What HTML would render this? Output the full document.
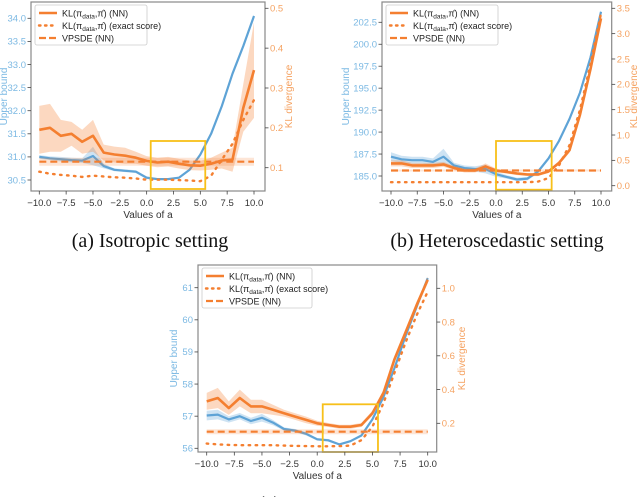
<!DOCTYPE html>
<html><head><meta charset="utf-8">
<style>
html,body{margin:0;padding:0;background:#fff;width:640px;height:497px;overflow:hidden}
svg{display:block;font-family:"Liberation Sans",sans-serif}
.cap{font-family:"Liberation Serif",serif;font-size:20px;fill:#111}
</style></head><body>
<svg id="fig" width="640" height="497" viewBox="0 0 640 497"></svg>
<script>
const xs = [-10,-9,-8,-7,-6,-5,-4,-3,-2,-1,0,1,2,3,4,5,6,7,8,9,10];
const xTicks = [-10,-7.5,-5,-2.5,0,2.5,5,7.5,10];
const xTickLabels = ["\u221210.0","\u22127.5","\u22125.0","\u22122.5","0.0","2.5","5.0","7.5","10.0"];

// Panel (a)
const aBlue = [31.0,30.97,30.95,30.93,30.92,31.02,30.8,30.72,30.7,30.68,30.55,30.52,30.52,30.55,30.72,31.05,31.5,32.1,32.8,33.4,34.05];
const aBlueErr = [0.04,0.04,0.05,0.05,0.05,0.2,0.05,0.03,0.03,0.03,0.03,0.02,0.02,0.02,0.02,0.03,0.03,0.03,0.03,0.03,0.03];
const aNN = [0.195,0.2,0.18,0.185,0.165,0.18,0.138,0.133,0.13,0.125,0.117,0.113,0.115,0.11,0.106,0.105,0.11,0.118,0.12,0.25,0.345];
const aNNErr = [0.06,0.06,0.04,0.03,0.03,0.04,0.02,0.02,0.02,0.015,0.012,0.012,0.012,0.012,0.012,0.012,0.015,0.02,0.03,0.06,0.12];
const aExact = [0.09,0.085,0.082,0.08,0.077,0.08,0.078,0.076,0.075,0.073,0.07,0.07,0.07,0.069,0.068,0.066,0.08,0.12,0.16,0.22,0.27];
const aVp = 0.115;
const aLeftTicks = [30.5,31.0,31.5,32.0,32.5,33.0,33.5,34.0];
const aRightTicks = [0.1,0.2,0.3,0.4,0.5];

// Panel (b)
const bBlue = [187.2,186.9,186.8,186.8,186.6,187.2,186.2,185.9,185.8,185.8,185.2,184.9,184.6,184.7,185.5,187.0,189.0,191.5,194.5,198.5,203.7];
const bBlueErr = [0.5,0.4,0.4,0.4,0.4,0.9,0.3,0.3,0.3,0.5,0.3,0.2,0.2,0.2,0.2,0.2,0.2,0.2,0.2,0.2,0.2];
const bNN = [0.44,0.44,0.4,0.4,0.4,0.42,0.35,0.3,0.3,0.38,0.3,0.27,0.24,0.22,0.22,0.28,0.45,0.7,1.4,2.3,3.3];
const bNNErr = [0.06,0.06,0.05,0.05,0.05,0.05,0.04,0.04,0.04,0.06,0.04,0.03,0.03,0.03,0.03,0.03,0.04,0.05,0.06,0.06,0.08];
const bExact = [0.07,0.07,0.07,0.07,0.07,0.07,0.07,0.07,0.07,0.07,0.07,0.07,0.07,0.07,0.08,0.15,0.4,0.8,1.5,2.4,3.4];
const bVp = 0.3;
const bLeftTicks = [185.0,187.5,190.0,192.5,195.0,197.5,200.0,202.5];
const bLeftLabels = ["185.0","187.5","190.0","192.5","195.0","197.5","200.0","202.5"];
const bRightTicks = [0,0.5,1.0,1.5,2.0,2.5,3.0,3.5];

// Panel (c)
const cBlue = [57.02,57.05,56.9,57.0,56.85,56.95,56.8,56.6,56.55,56.45,56.28,56.25,56.12,56.22,56.4,56.9,57.6,58.5,59.5,60.4,61.3];
const cBlueErr = [0.15,0.15,0.1,0.1,0.1,0.12,0.08,0.05,0.05,0.05,0.04,0.04,0.03,0.03,0.03,0.03,0.03,0.03,0.03,0.03,0.03];
const cNN = [0.33,0.35,0.29,0.35,0.3,0.3,0.28,0.26,0.24,0.22,0.2,0.19,0.18,0.18,0.19,0.26,0.38,0.58,0.74,0.9,1.05];
const cNNErr = [0.05,0.06,0.04,0.05,0.04,0.04,0.03,0.02,0.02,0.02,0.015,0.012,0.012,0.012,0.012,0.015,0.02,0.02,0.02,0.02,0.02];
const cExact = [0.08,0.075,0.072,0.07,0.07,0.07,0.07,0.068,0.066,0.065,0.064,0.064,0.065,0.068,0.1,0.18,0.32,0.5,0.68,0.84,0.98];
const cVp = 0.15;
const cLeftTicks = [56,57,58,59,60,61];
const cRightTicks = [0.2,0.4,0.6,0.8,1.0];

const NS = "http://www.w3.org/2000/svg";
const svg = document.getElementById('fig');
const BLUE = "#5ea3d6", ORANGE = "#f47f30", LBLUE = "#7cb9e3", LORANGE = "#f5a261";
function mk(tag, attrs, parent){const e=document.createElementNS(NS,tag);for(const k in attrs)e.setAttribute(k,attrs[k]);(parent||svg).appendChild(e);return e;}
function lin(d0,d1,p0,p1){return v=>p0+(v-d0)*(p1-p0)/(d1-d0);}

function panel(P){
  const g = mk('g',{});
  
  
  const X = lin(-10,10,P.xa,P.xb);
  const YL = lin(P.l0,P.l1,P.ly0,P.ly1);
  const YR = lin(P.r0,P.r1,P.ry0,P.ry1);
  const band = (vals,err,Y,col,op,name)=>{
    let d = xs.map((x,i)=>(i?'L':'M')+X(x).toFixed(1)+','+Y(vals[i]+err[i]).toFixed(1)).join('');
    for(let i=xs.length-1;i>=0;i--) d+='L'+X(xs[i]).toFixed(1)+','+Y(vals[i]-err[i]).toFixed(1);
    const e = mk('path',{d:d+'Z',fill:col,'fill-opacity':op,stroke:'none'},g);
    
    
  };
  const line = (vals,Y,col,extra,name)=>{
    const d = xs.map((x,i)=>(i?'L':'M')+X(x).toFixed(1)+','+Y(vals[i]).toFixed(1)).join('');
    const e = mk('path',Object.assign({d,fill:'none',stroke:col,'stroke-width':2.2,'stroke-linejoin':'round'},extra),g);
    
    
  };
  band(P.blue,P.blueErr,YL,BLUE,0.3,'upper-bound-band');
  line(P.blue,YL,BLUE,{},'upper-bound-line');
  band(P.nn,P.nnErr,YR,ORANGE,0.3,'kl-nn-band');
  const vpErr = xs.map(()=>P.vpErr);
  const vpv = xs.map(()=>P.vp);
  band(vpv,vpErr,YR,ORANGE,0.2,'vpsde-band');
  line(vpv,YR,ORANGE,{'stroke-dasharray':'7,4'},'vpsde-line');
  line(P.exact,YR,ORANGE,{'stroke-dasharray':'1.5,5.5','stroke-linecap':'round','stroke-width':2.4},'kl-exact-line');
  line(P.nn,YR,ORANGE,{'stroke-width':2.6},'kl-nn-line');
  const hb = mk('rect',{x:X(P.box[0]),y:P.by0,width:X(P.box[1])-X(P.box[0]),height:P.by1-P.by0,fill:'none',stroke:'#f7c01a','stroke-width':1.8},g);
  
  
  const fr = mk('rect',{x:P.fx0,y:P.fy0,width:P.fx1-P.fx0,height:P.fy1-P.fy0,fill:'none',stroke:'#888','stroke-width':1.2},g);
  
  
  xTicks.forEach((t,i)=>{
    mk('line',{x1:X(t),x2:X(t),y1:P.fy1,y2:P.fy1+3.5,stroke:'#444','stroke-width':0.8},g);
    const tx = mk('text',{x:X(t),y:P.fy1+15,'font-size':9.5,'text-anchor':'middle',fill:'#333'},g);
    tx.textContent = xTickLabels[i];
    
    
  });
  const xl = mk('text',{x:(P.fx0+P.fx1)/2,y:P.fy1+27,'font-size':10,'text-anchor':'middle',fill:'#333'},g);
  xl.textContent='Values of a';
  
  
  P.lt.forEach((t,i)=>{
    mk('line',{x1:P.fx0-3.5,x2:P.fx0,y1:YL(t),y2:YL(t),stroke:'#444','stroke-width':0.8},g);
    const tx = mk('text',{x:P.fx0-5,y:YL(t)+3.3,'font-size':9.5,'text-anchor':'end',fill:LBLUE},g);
    tx.textContent = P.ll ? P.ll[i] : (P.ldec!=null ? t.toFixed(P.ldec) : String(t));
    
    
  });
  P.rt.forEach(t=>{
    mk('line',{x1:P.fx1,x2:P.fx1+3.5,y1:YR(t),y2:YR(t),stroke:'#444','stroke-width':0.8},g);
    const tx = mk('text',{x:P.fx1+5,y:YR(t)+3.3,'font-size':9.5,'text-anchor':'start',fill:LORANGE},g);
    tx.textContent = t.toFixed(1);
    
    
  });
  const my=(P.fy0+P.fy1)/2;
  const yl = mk('text',{x:P.ylx,y:my,'font-size':10,'text-anchor':'middle',fill:LBLUE,transform:`rotate(-90 ${P.ylx} ${my})`},g);
  yl.textContent='Upper bound';
  
  
  const yr = mk('text',{x:P.yrx,y:my,'font-size':10,'text-anchor':'middle',fill:LORANGE,transform:`rotate(-90 ${P.yrx} ${my})`},g);
  yr.textContent='KL divergence';
  
  
  const lx=P.fx0+4, ly=P.fy0+3;
  const lg = mk('g',{},g);
  
  
  mk('rect',{x:lx,y:ly,width:P.legW,height:40,fill:'#fff','fill-opacity':0.85,stroke:'#ccc','stroke-width':0.8,rx:2},lg);
  const ents=[[{'stroke-width':2.6},'KL(π<tspan font-size="6.5" dy="2">data</tspan><tspan dy="-2">,π̂) (NN)</tspan>'],
    [{'stroke-dasharray':'1.5,4.5','stroke-linecap':'round','stroke-width':2.4},'KL(π<tspan font-size="6.5" dy="2">data</tspan><tspan dy="-2">,π̂) (exact score)</tspan>'],
    [{'stroke-dasharray':'7,3'},'VPSDE (NN)']];
  ents.forEach((e,i)=>{
    const yy=ly+8+i*12.5;
    mk('line',Object.assign({x1:lx+4,x2:lx+22,y1:yy,y2:yy,stroke:ORANGE,'stroke-width':2.2},e[0]),lg);
    const t=mk('text',{x:lx+27,y:yy+3.3,'font-size':9,fill:'#222'},lg);
    t.innerHTML=e[1];
    
    
  });
}

panel({name:'panel-a-isotropic',xa:39.3,xb:254,fx0:31,fx1:265,fy0:2,fy1:191,
  l0:30.5,l1:34.0,ly0:180,ly1:18.3,r0:0.1,r1:0.5,ry0:167.7,ry1:8.3,
  blue:aBlue,blueErr:aBlueErr,nn:aNN,nnErr:aNNErr,exact:aExact,vp:aVp,vpErr:0.01,
  lt:aLeftTicks,ldec:1,rt:aRightTicks,box:[0.38,5.46],by0:141,by1:189,ylx:7,yrx:292,legW:112});
panel({name:'panel-b-heteroscedastic',xa:391,xb:601,fx0:382,fx1:611.7,fy0:2,fy1:191,
  l0:185,l1:202.5,ly0:176,ly1:22.3,r0:0,r1:3.5,ry0:185.7,ry1:8.3,
  blue:bBlue,blueErr:bBlueErr,nn:bNN,nnErr:bNNErr,exact:bExact,vp:bVp,vpErr:0.02,
  lt:bLeftTicks,ll:bLeftLabels,rt:bRightTicks,box:[0,5.3],by0:141,by1:189.7,ylx:349,yrx:637,legW:112});
panel({name:'panel-c',xa:206.7,xb:427.7,fx0:198,fx1:436.7,fy0:265,fy1:452,
  l0:56,l1:61,ly0:448.3,ly1:287.7,r0:0.2,r1:1.0,ry0:423.3,ry1:288.3,
  blue:cBlue,blueErr:cBlueErr,nn:cNN,nnErr:cNNErr,exact:cExact,vp:cVp,vpErr:0.015,
  lt:cLeftTicks,rt:cRightTicks,box:[0.5,5.5],by0:404.3,by1:452,ylx:177,yrx:465,legW:110});

const c1=mk('text',{x:150,y:247,'text-anchor':'middle',class:'cap'});
c1.textContent='(a) Isotropic setting';


const c2=mk('text',{x:497,y:247,'text-anchor':'middle',class:'cap'});
c2.textContent='(b) Heteroscedastic setting';


const c3=mk('text',{x:300,y:510,'text-anchor':'middle',class:'cap'});
c3.textContent='(c) Setting';


</script>
</body></html>
